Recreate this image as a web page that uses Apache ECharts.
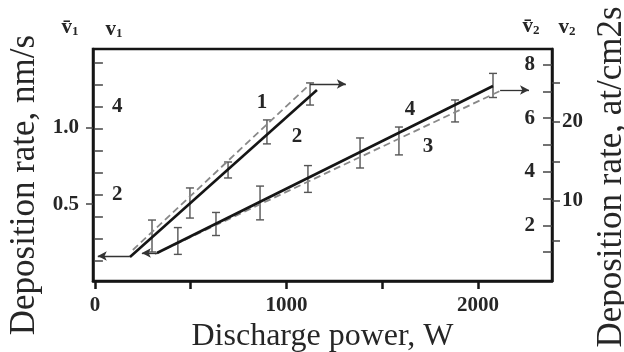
<!DOCTYPE html>
<html><head><meta charset="utf-8">
<script src="https://cdn.jsdelivr.net/npm/echarts@6/dist/echarts.min.js"></script>
<style>html,body{margin:0;padding:0;background:#fff}#c{width:624px;height:352px}</style>
</head><body><div id="c"></div>
<script>
// ---- axis ticks / labels ----
const xTicks = [0, 500, 1000, 1500, 2000];
const xLabels = [0, 1000, 2000];
const vbar1Ticks = [0.5, 1.0];            // left outer axis (v̄1)
const v1Ticks = [0.5, 1, 1.5, 2, 2.5, 3, 3.5, 4, 4.5, 5]; // left inner axis (v1)
const v1Labels = [2, 4];
const vbar2Ticks = [1, 2, 3, 4, 5, 6, 7, 8];   // right inner axis (v̄2)
const vbar2Labels = [2, 4, 6, 8];
const v2Ticks = [5, 10, 15, 20, 25];      // right outer axis (v2)
const v2Labels = [10, 20];

// ---- steep pair (curves 1, 2), read on the v̄1 scale ----
const steepSolidX = [183, 1159];
const steepSolidY = [0.156, 1.244];
const steepDashX = [198, 1123];
const steepDashY = [0.202, 1.283];
const steepBarX = [298, 496, 695, 898, 1123];
const steepBarY = [0.293, 0.508, 0.723, 0.971, 1.218];
const steepBarErr = [0.104, 0.098, 0.052, 0.078, 0.072];

// ---- shallow pair (curves 3, 4), read on the v̄2 scale ----
const shallowSolidX = [324, 2078];
const shallowSolidY = [0.970, 7.20];
const shallowDashX = [313, 2115];
const shallowDashY = [0.933, 7.015];
const shallowBarX = [433, 632, 862, 1112, 1384, 1587, 1880, 2078];
const shallowBarY = [1.418, 2.052, 2.836, 3.731, 4.701, 5.149, 6.269, 7.22];
const shallowBarErr = [0.50, 0.43, 0.63, 0.50, 0.56, 0.52, 0.41, 0.45];

// ---- arrows (data units) ----
const arrowSteepLeft = [[183, 0.163], [15, 0.163]];
const arrowSteepTop = [[1123, 1.283], [1310, 1.283]];
const arrowShallowLeft = [[324, 0.97], [245, 0.97]];
const arrowShallowRight = [[2115, 7.05], [2266, 7.05]];

const FONT = "'Liberation Serif','Times New Roman',serif";
const TXT = '#262626';
const LINE = '#151515';

function pairs(xs, ys) { return xs.map((x, i) => [x, ys[i]]); }
function bars(xs, ys, es) { return xs.map((x, i) => [x, ys[i] - es[i], ys[i] + es[i]]); }

function errRender(params, api) {
  const x = api.value(0);
  const lo = api.coord([x, api.value(1)]);
  const hi = api.coord([x, api.value(2)]);
  const w = 4;
  const st = { stroke: '#555', lineWidth: 1.4 };
  return { type: 'group', children: [
    { type: 'line', shape: { x1: lo[0], y1: lo[1], x2: hi[0], y2: hi[1] }, style: st },
    { type: 'line', shape: { x1: lo[0] - w, y1: lo[1], x2: lo[0] + w, y2: lo[1] }, style: st },
    { type: 'line', shape: { x1: hi[0] - w, y1: hi[1], x2: hi[0] + w, y2: hi[1] }, style: st }
  ]};
}

function arrowML(seg) {
  return {
    silent: true, symbol: ['none', 'arrow'], symbolSize: [7, 9],
    lineStyle: { color: '#333', width: 1.3, type: 'solid' }, label: { show: false },
    data: [[{ coord: seg[0] }, { coord: seg[1] }]]
  };
}

const numStyle = { fontFamily: FONT, fontWeight: 'bold', fontSize: 21, color: TXT };

function txtS() {
  return { font: "bold 21px 'Liberation Serif', serif", fill: TXT, align: 'center', verticalAlign: 'middle' };
}
function symS(v, s) {
  return {
    text: '{v|' + v + '}{s|' + s + '}', align: 'center', verticalAlign: 'middle',
    rich: { v: { fontFamily: FONT, fontWeight: 'bold', fontSize: 21, fill: TXT, color: TXT },
            s: { fontFamily: FONT, fontWeight: 'bold', fontSize: 13, fill: TXT, color: TXT, padding: [8, 0, 0, 0] } }
  };
}

const chart = echarts.init(document.getElementById('c'), null, { renderer: 'canvas' });
chart.setOption({
  animation: false,
  backgroundColor: '#fff',
  grid: { left: 93, right: 72, top: 49, bottom: 71, containLabel: false, outerBoundsMode: 'none',
          show: true, borderColor: LINE, borderWidth: 2.5, backgroundColor: 'transparent' },
  xAxis: {
    type: 'value', min: -10, max: 2386,
    axisLine: { show: true, lineStyle: { color: LINE, width: 2.5 } },
    axisTick: { show: true, customValues: xTicks, length: 8, lineStyle: { color: LINE, width: 2.5 } },
    axisLabel: { customValues: xLabels, margin: 14, formatter: v => String(v), ...numStyle },
    splitLine: { show: false },
    name: 'Discharge power, W', nameLocation: 'middle', nameGap: 34,
    nameTextStyle: { fontFamily: FONT, fontSize: 32, color: TXT }
  },
  yAxis: [
    { // v̄1 left outer
      type: 'value', position: 'left', min: 0, max: 1.511,
      axisLine: { show: true, onZero: false, lineStyle: { color: LINE, width: 2.5 } },
      axisTick: { show: true, customValues: vbar1Ticks, length: 7, lineStyle: { color: '#444', width: 1.5 } },
      axisLabel: { customValues: vbar1Ticks, margin: 14, formatter: v => v.toFixed(1), ...numStyle },
      splitLine: { show: false },
      name: 'Deposition rate, nm/s', nameLocation: 'middle', nameGap: 36, nameRotate: 90,
      nameTextStyle: { fontFamily: FONT, fontSize: 35, color: TXT, padding: [0, 40, 0, 0] }
    },
    { // v1 left inner
      type: 'value', position: 'left', min: 0.045, max: 5.318,
      axisLine: { show: false },
      axisTick: { show: true, inside: true, customValues: v1Ticks, length: 8, lineStyle: { color: '#444', width: 1.5 } },
      axisLabel: { inside: true, customValues: v1Labels, margin: 19, ...numStyle },
      splitLine: { show: false }
    },
    { // v̄2 right inner
      type: 'value', position: 'right', min: -0.075, max: 8.58,
      axisLine: { show: true, onZero: false, lineStyle: { color: LINE, width: 2.5 } },
      axisTick: { show: true, inside: true, customValues: vbar2Ticks, length: 9, lineStyle: { color: '#444', width: 1.5 } },
      axisLabel: { inside: true, customValues: vbar2Labels, margin: 17, ...numStyle },
      splitLine: { show: false }
    },
    { // v2 right outer
      type: 'value', position: 'right', min: -0.127, max: 29.24,
      axisLine: { show: false },
      axisTick: { show: true, customValues: v2Ticks, length: 8, lineStyle: { color: '#444', width: 1.5 } },
      axisLabel: { customValues: v2Labels, margin: 10, ...numStyle },
      splitLine: { show: false },
      name: 'Deposition rate, at/cm2s', nameLocation: 'middle', nameGap: 37, nameRotate: 90,
      nameTextStyle: { fontFamily: FONT, fontSize: 35, color: TXT, padding: [0, 24, 0, 0] }
    }
  ],
  series: [
    { type: 'line', yAxisIndex: 0, data: pairs(steepDashX, steepDashY), showSymbol: false,
      lineStyle: { color: '#888', width: 1.8, type: [7, 4] }, markLine: arrowML(arrowSteepTop) },
    { type: 'line', yAxisIndex: 0, data: pairs(steepSolidX, steepSolidY), showSymbol: false,
      lineStyle: { color: LINE, width: 2.6 }, markLine: arrowML(arrowSteepLeft) },
    { type: 'custom', yAxisIndex: 0, data: bars(steepBarX, steepBarY, steepBarErr), renderItem: errRender },
    { type: 'line', yAxisIndex: 2, data: pairs(shallowDashX, shallowDashY), showSymbol: false,
      lineStyle: { color: '#888', width: 1.8, type: [7, 4] }, markLine: arrowML(arrowShallowRight) },
    { type: 'line', yAxisIndex: 2, data: pairs(shallowSolidX, shallowSolidY), showSymbol: false,
      lineStyle: { color: LINE, width: 2.6 }, markLine: arrowML(arrowShallowLeft) },
    { type: 'custom', yAxisIndex: 2, data: bars(shallowBarX, shallowBarY, shallowBarErr), renderItem: errRender }
  ],
  graphic: [
    { type: 'text', x: 262, y: 103, style: { text: '1', ...txtS() } },
    { type: 'text', x: 297, y: 137, style: { text: '2', ...txtS() } },
    { type: 'text', x: 410, y: 110, style: { text: '4', ...txtS() } },
    { type: 'text', x: 428, y: 147, style: { text: '3', ...txtS() } },
    { type: 'text', x: 70, y: 28, style: symS('v\u0304', '1') },
    { type: 'text', x: 114, y: 30, style: symS('v', '1') },
    { type: 'text', x: 531, y: 27, style: symS('v\u0304', '2') },
    { type: 'text', x: 567, y: 28, style: symS('v', '2') }
  ]
});
</script></body></html>
